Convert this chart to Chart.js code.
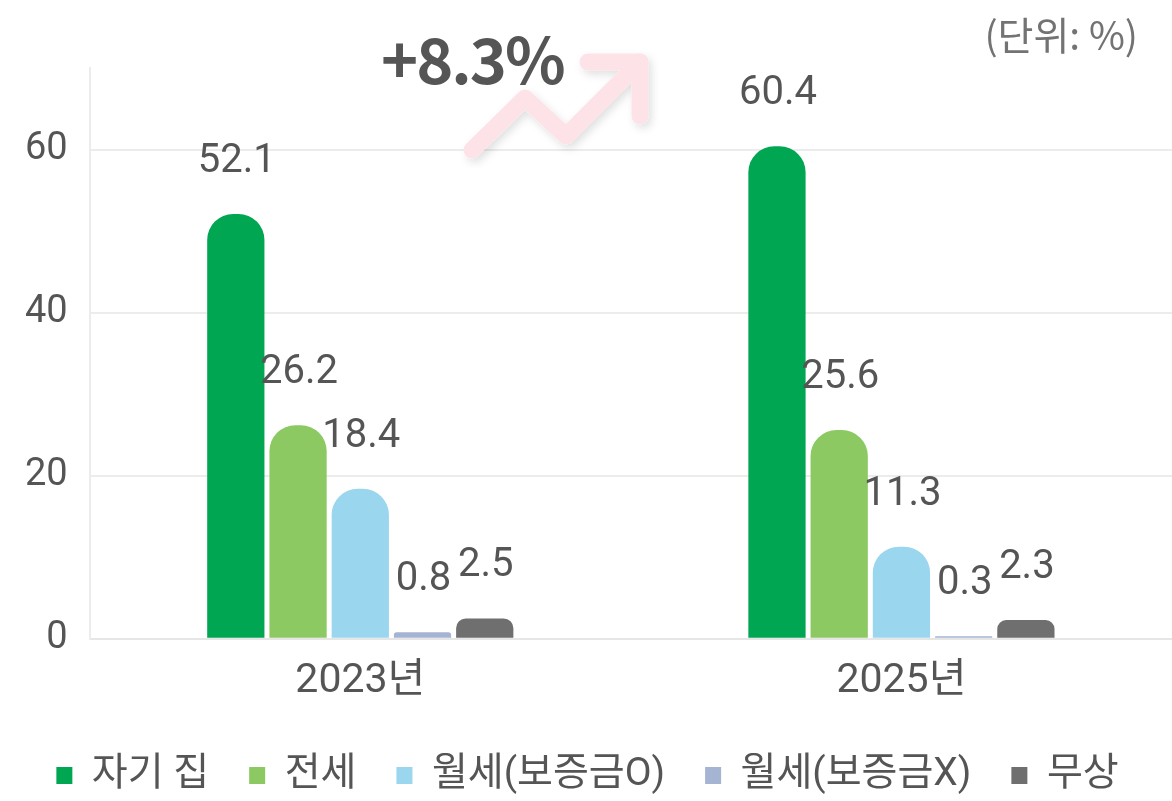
<!DOCTYPE html>
<html>
<head>
<meta charset="utf-8">
<script src="https://cdn.jsdelivr.net/npm/chart.js@4.4.1/dist/chart.umd.min.js"></script>
<style>
  html, body { margin: 0; padding: 0; background: #fff; }
  #wrap { position: relative; width: 1172px; height: 801px; overflow: hidden; }
  #chart { position: absolute; left: 0; top: 0; }
  .unit { position: absolute; right: 34px; top: 5px; line-height: 1; font: 39px "Noto Sans CJK KR", sans-serif; color: #737373; }
  .delta { position: absolute; left: 381px; top: 11px; line-height: 1; font: bold 63px "Noto Sans CJK KR", sans-serif; color: #555; letter-spacing: -2px; z-index: 2; }
  #arrow { position: absolute; left: 0; top: 0; z-index: 1; }
</style>
</head>
<body>
<div id="wrap">
  <canvas id="chart" width="1172" height="801"></canvas>
  <svg id="arrow" width="1172" height="801">
    <defs>
      <filter id="sh" x="-20%" y="-20%" width="140%" height="140%">
        <feDropShadow dx="3" dy="4" stdDeviation="4" flood-color="#000" flood-opacity="0.12"/>
      </filter>
    </defs>
    <g filter="url(#sh)">
      <polyline points="472,150 525,98 566,136 640,62" fill="none" stroke="#fde2e7" stroke-width="17" stroke-linecap="round" stroke-linejoin="round"/>
      <polyline points="588,62 640,62 640,116" fill="none" stroke="#fde2e7" stroke-width="17" stroke-linecap="round" stroke-linejoin="round"/>
    </g>
  </svg>
  <div class="delta">+8.3%</div>
  <div class="unit">(단위: %)</div>
</div>
<script>
// data
const years = ['2023년', '2025년'];
const seriesNames = ['자기 집', '전세', '월세(보증금O)', '월세(보증금X)', '무상'];
const ownHome = [52.1, 60.4];
const jeonse = [26.2, 25.6];
const rentDeposit = [18.4, 11.3];
const rentNoDeposit = [0.8, 0.3];
const free = [2.5, 2.3];
const yTicks = [0, 20, 40, 60];

const colors = ['#00a651', '#8cc962', '#9ad6ee', '#a4b4d2', '#6f6f6f'];
const FONT = 'Roboto, "Noto Sans CJK KR", sans-serif';

// value labels above each bar
const barLabels = {
  id: 'barLabels',
  afterDatasetsDraw(chart) {
    const ctx = chart.ctx;
    ctx.save();
    ctx.font = '40px ' + FONT;
    ctx.fillStyle = '#555';
    ctx.textAlign = 'center';
    ctx.textBaseline = 'middle';
    chart.data.datasets.forEach((ds, i) => {
      chart.getDatasetMeta(i).data.forEach((bar, j) => {
        ctx.fillText(ds.data[j].toFixed(1), bar.x + 1, bar.y - 52);
      });
    });
    ctx.restore();
  }
};

const allSeries = [ownHome, jeonse, rentDeposit, rentNoDeposit, free];

new Chart(document.getElementById('chart'), {
  type: 'bar',
  data: {
    labels: years,
    datasets: allSeries.map((d, i) => ({
      label: seriesNames[i],
      data: d,
      backgroundColor: colors[i],
      borderRadius: { topLeft: 26, topRight: 26 },
      borderSkipped: 'bottom',
      barPercentage: 0.92,
      categoryPercentage: 0.575
    }))
  },
  options: {
    responsive: false,
    animation: false,
    layout: { padding: { top: 68, right: 0, left: 3, bottom: -4 } },
    scales: {
      x: {
        grid: { display: false },
        border: { color: '#e6e6e6', width: 2 },
        ticks: { color: '#555', font: { size: 41, family: FONT }, padding: 10 }
      },
      y: {
        min: 0,
        max: 70,
        afterBuildTicks(axis) { axis.ticks = yTicks.map(v => ({ value: v })); },
        grid: { color: '#ececec', lineWidth: 2, drawTicks: false },
        border: { color: '#ececec', width: 2 },
        ticks: { color: '#555', font: { size: 38, family: FONT }, padding: 22 }
      }
    },
    plugins: {
      legend: {
        position: 'bottom',
        labels: {
          color: '#555',
          font: { size: 39, family: FONT },
          boxWidth: 16,
          boxHeight: 17,
          padding: 40
        }
      },
      tooltip: { enabled: false }
    }
  },
  plugins: [barLabels]
});
</script>
</body>
</html>
